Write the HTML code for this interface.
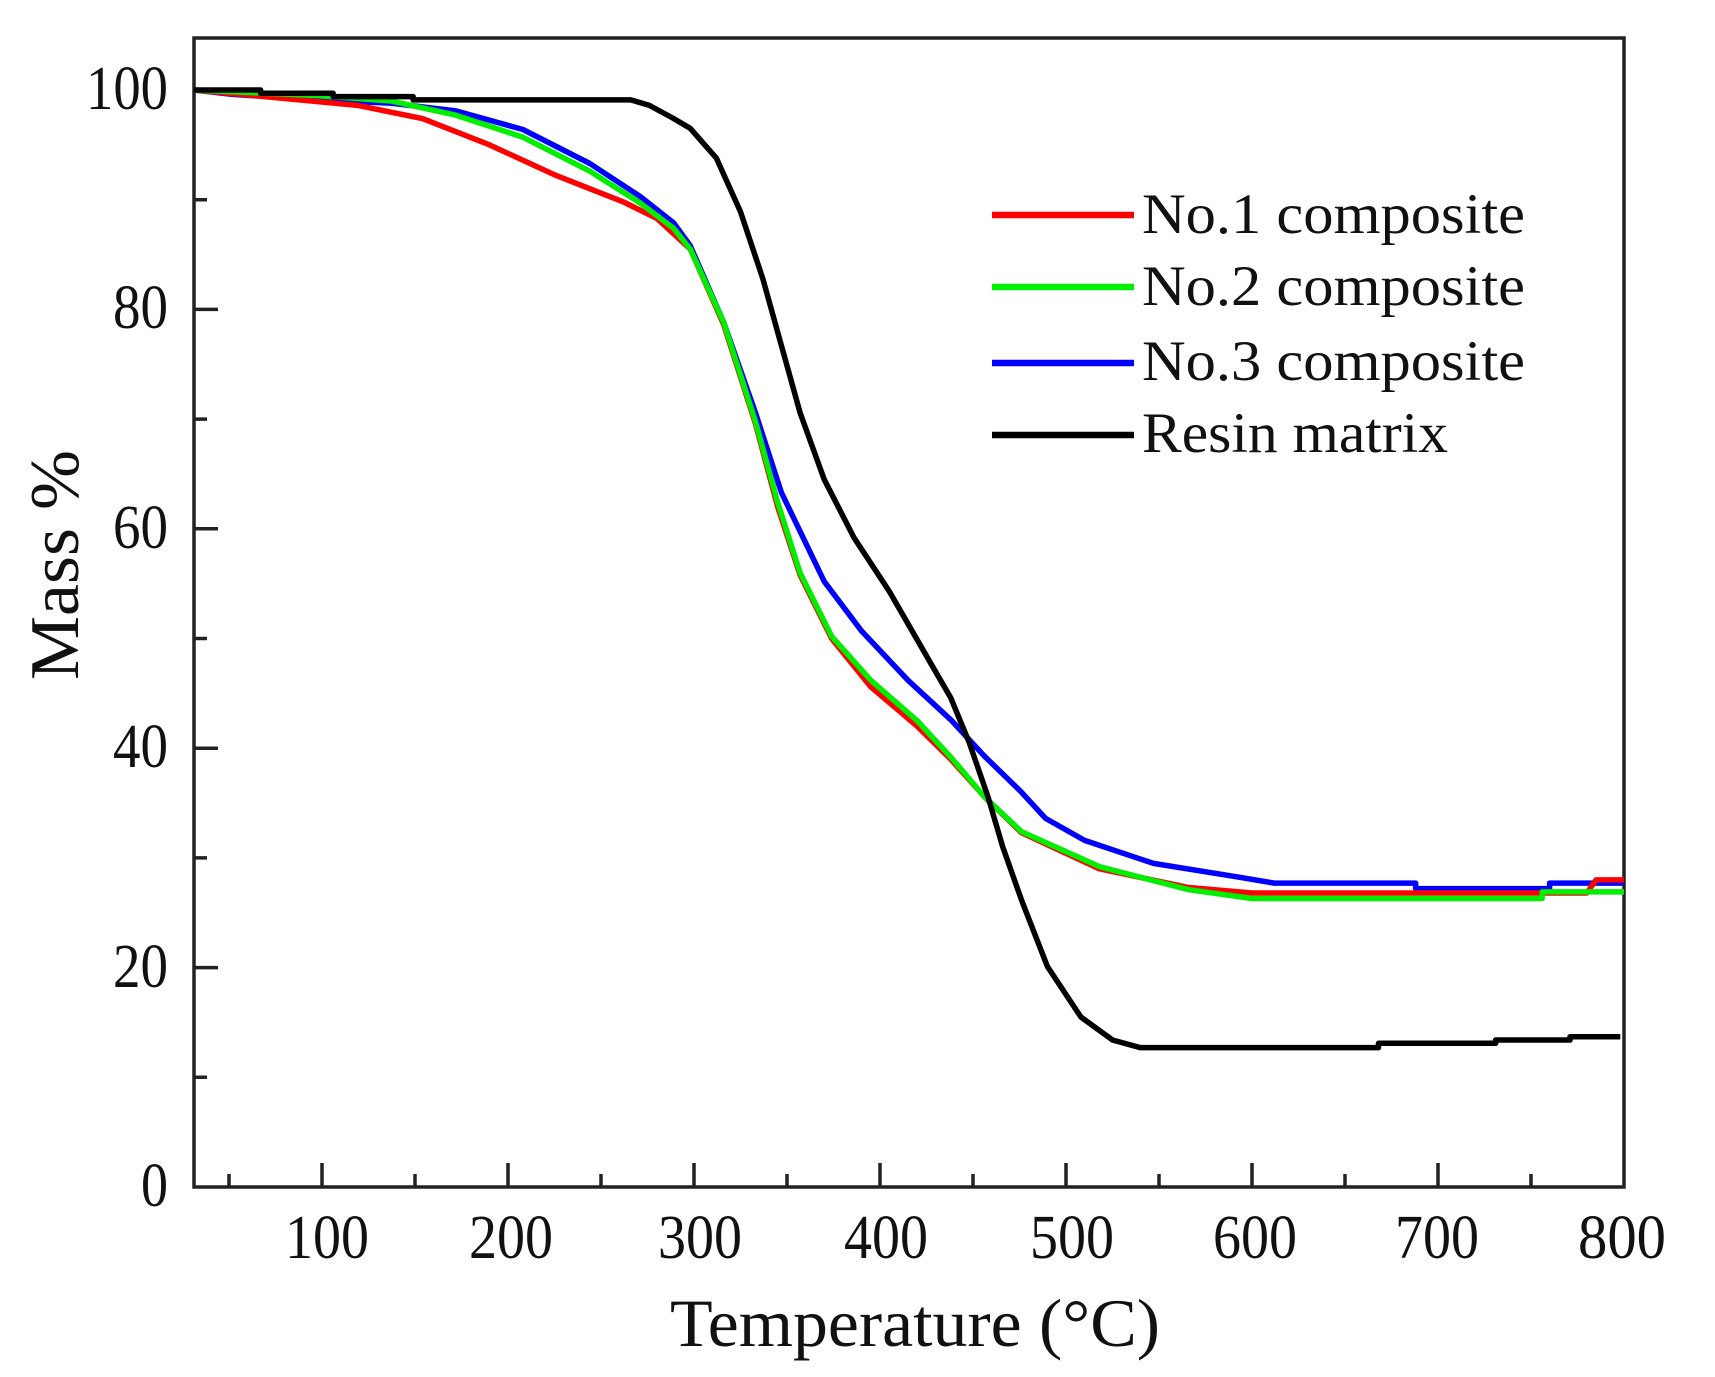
<!DOCTYPE html>
<html><head><meta charset="utf-8"><style>html,body{margin:0;padding:0;background:#fff}svg{display:block}</style></head>
<body>
<svg width="1715" height="1377" viewBox="0 0 1715 1377" xmlns="http://www.w3.org/2000/svg" font-family="Liberation Serif, serif" fill="#111">
<g stroke="#222" stroke-width="3.5" fill="none">
<rect x="194" y="38" width="1430" height="1149"/>
<path d="M229,1187v-13M322,1187v-24M415,1187v-13M508,1187v-24M601,1187v-13M694,1187v-24M787,1187v-13M880,1187v-24M973,1187v-13M1066,1187v-24M1159,1187v-13M1252,1187v-24M1345,1187v-13M1438,1187v-24M1531,1187v-13"/>
<path d="M194,90h24M194,199.7h13M194,309.4h24M194,419.1h13M194,528.8h24M194,638.5h13M194,748.2h24M194,857.9h13M194,967.6h24M194,1077.3h13"/>
</g>
<g font-size="62" text-anchor="end">
<text x="168" y="109" textLength="82" lengthAdjust="spacingAndGlyphs">100</text>
<text x="168" y="328" textLength="55" lengthAdjust="spacingAndGlyphs">80</text>
<text x="168" y="548" textLength="55" lengthAdjust="spacingAndGlyphs">60</text>
<text x="168" y="767" textLength="55" lengthAdjust="spacingAndGlyphs">40</text>
<text x="168" y="987" textLength="55" lengthAdjust="spacingAndGlyphs">20</text>
<text x="168" y="1206" textLength="27" lengthAdjust="spacingAndGlyphs">0</text>
</g>
<g font-size="62" text-anchor="middle">
<text x="327" y="1258" textLength="84" lengthAdjust="spacingAndGlyphs">100</text>
<text x="511" y="1258" textLength="84" lengthAdjust="spacingAndGlyphs">200</text>
<text x="700" y="1258" textLength="84" lengthAdjust="spacingAndGlyphs">300</text>
<text x="886" y="1258" textLength="84" lengthAdjust="spacingAndGlyphs">400</text>
<text x="1072" y="1258" textLength="84" lengthAdjust="spacingAndGlyphs">500</text>
<text x="1255" y="1258" textLength="84" lengthAdjust="spacingAndGlyphs">600</text>
<text x="1437" y="1258" textLength="84" lengthAdjust="spacingAndGlyphs">700</text>
<text x="1622" y="1258" textLength="88" lengthAdjust="spacingAndGlyphs">800</text>
</g>
<text x="915" y="1346" font-size="68" text-anchor="middle" textLength="490" lengthAdjust="spacingAndGlyphs">Temperature (°C)</text>
<text transform="translate(78,565) rotate(-90)" font-size="70" text-anchor="middle" textLength="230" lengthAdjust="spacingAndGlyphs">Mass %</text>
<g fill="none" stroke-width="5.5" stroke-linejoin="round" transform="matrix(1.86,0,0,-10.97,136,1187)">
<polyline vector-effect="non-scaling-stroke" stroke="#0000ff" points="31,100 52,99.6 97,99.1 137,98.8 172,98.1 208,96.4 244,93.3 271,90.3 289,87.9 298,85.8 316,78.8 333,70.6 347,63.3 370,55.2 390,50.7 415,46.2 438,42.6 456,39.3 476,36 489,33.6 510,31.6 547,29.5 591,28.3 612,27.7 688,27.7 688,27.2 760,27.2 760,27.7 800,27.7"/>
<polyline vector-effect="non-scaling-stroke" stroke="#ff0000" points="31,100 119,98.6 154,97.4 190,95 226,92.2 262,89.8 280,88.3 298,85.5 316,78.6 333,69.6 345,62 357,55.8 374,50 395,45.6 420,42 438,39 456,35.6 476,32.3 518,29 566,27.3 600,26.8 780,26.8 785,28 800,28"/>
<polyline vector-effect="non-scaling-stroke" stroke="#00ee00" points="31,100 97,99.5 137,99 172,97.7 208,95.7 244,92.6 271,89.7 289,87.4 298,85.5 316,78.8 333,69.8 345,62.4 357,56 374,50.2 395,46.2 420,42.5 438,39.2 456,35.6 476,32.4 518,29.2 566,27.1 600,26.3 756,26.3 756,26.9 800,26.9"/>
<polyline vector-effect="non-scaling-stroke" stroke="#000" points="31,100 67,100 67,99.7 106,99.7 106,99.4 149,99.4 149,99.1 266,99.1 276,98.6 289,97.4 298,96.5 312,93.8 325,88.9 337,82.8 347,76.7 357,70.6 370,64.5 386,59.2 405,54.3 423,49 438,44.6 448,40.5 458,35.6 466,31 476,26.2 490,20.1 508,15.5 525,13.4 540,12.7 668,12.7 668,13.1 731,13.1 731,13.4 771,13.4 771,13.7 798,13.7"/>
</g>
<g stroke-width="6.5">
<line x1="992" y1="215" x2="1134" y2="215" stroke="#ff0000"/>
<line x1="992" y1="287" x2="1134" y2="287" stroke="#00ee00"/>
<line x1="992" y1="363" x2="1134" y2="363" stroke="#0000ff"/>
<line x1="992" y1="435" x2="1134" y2="435" stroke="#000"/>
</g>
<g font-size="57">
<text x="1142" y="233" textLength="383" lengthAdjust="spacingAndGlyphs">No.1 composite</text>
<text x="1142" y="305" textLength="383" lengthAdjust="spacingAndGlyphs">No.2 composite</text>
<text x="1142" y="380" textLength="383" lengthAdjust="spacingAndGlyphs">No.3 composite</text>
<text x="1142" y="452" textLength="306" lengthAdjust="spacingAndGlyphs">Resin matrix</text>
</g>
</svg>
</body></html>
